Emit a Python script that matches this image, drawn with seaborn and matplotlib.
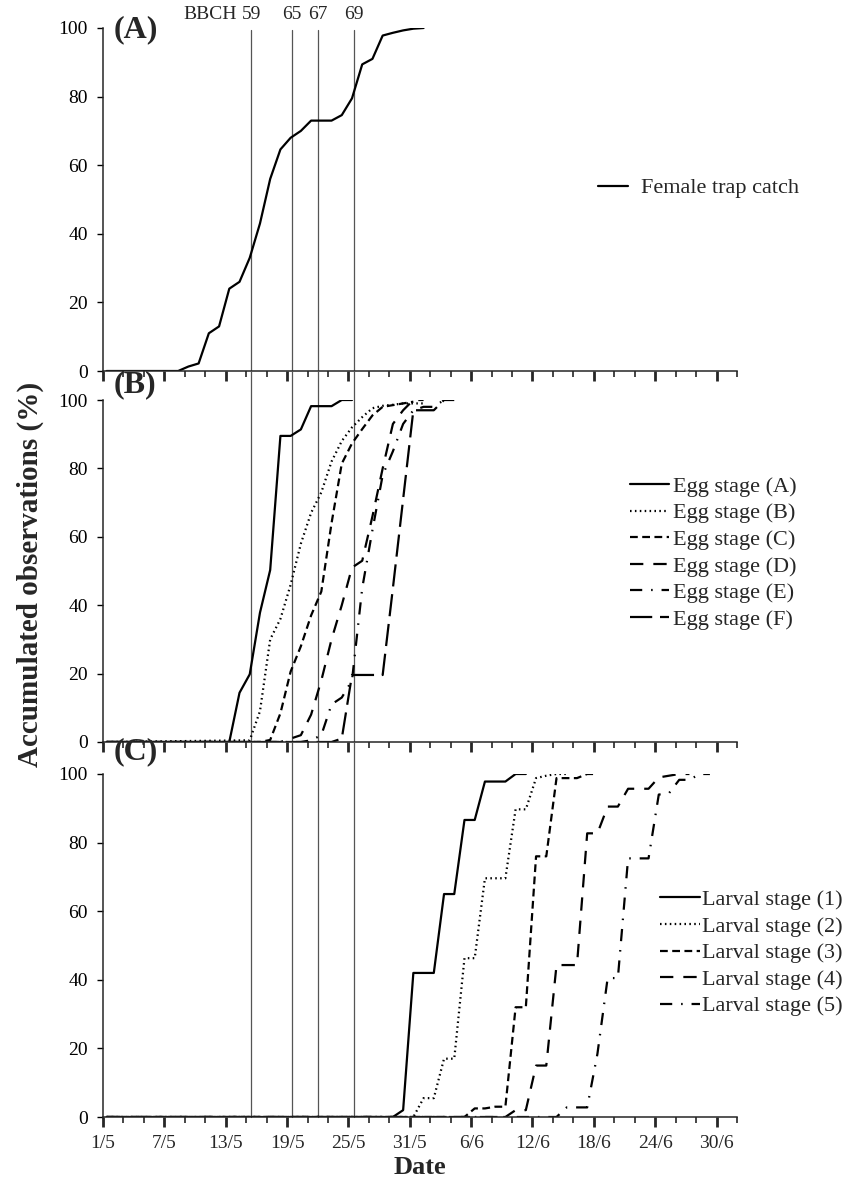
import matplotlib
matplotlib.use('Agg')
import matplotlib.pyplot as plt
from matplotlib.ticker import FixedLocator, MultipleLocator
import numpy as np
import seaborn as sns

# x = days after 1 May (0 = 1/5)
tick_days = [0, 6, 12, 18, 24, 30, 36, 42, 48, 54, 60]
tick_labels = ['1/5', '7/5', '13/5', '19/5', '25/5', '31/5', '6/6', '12/6', '18/6', '24/6', '30/6']
bbch_labels = ['59', '65', '67', '69']
bbch_days = [14.5, 18.5, 21.0, 24.5]

# (A) female trap catch
fem_day = [0, 7, 8, 9, 10, 11, 12, 13, 14, 15, 16, 17, 18, 19, 20, 21, 22, 23, 24, 25, 26, 27, 28, 29, 30, 31]
fem_val = [0, 0, 1.3, 2.2, 11, 13, 24, 26, 33, 43, 56, 64.6, 68, 70, 73, 73, 73, 74.6, 79.5, 89.4, 91, 97.8, 98.6, 99.3, 99.8, 100]

# (B) egg stages
eggA_day = [0, 12, 13, 14, 15, 16, 17, 18, 19, 20, 21, 22, 23, 24]
eggA_val = [0, 0, 14.4, 19.8, 37.8, 50.3, 89.5, 89.5, 91.4, 98.2, 98.2, 98.2, 100, 100]
eggB_day = [0, 14, 15, 16, 17, 18, 19, 20, 21, 22, 23, 24, 25, 26, 27, 28, 29, 30, 31]
eggB_val = [0, 0.5, 9, 30, 36, 46, 58, 67, 73, 82, 88, 92, 95, 97.6, 98.3, 98.6, 99, 99, 99]
eggC_day = [0, 15, 16, 17, 18, 19, 20, 21, 22, 23, 24, 25, 26, 27, 28, 29, 30]
eggC_val = [0, 0, 0.6, 8.4, 20.6, 28, 37, 44, 64, 81.4, 87.3, 91.5, 95.5, 98, 98.5, 99, 99.5]
eggD_day = [0, 17, 18, 19, 20, 21, 22, 23, 24, 25, 26, 27, 28, 29, 30, 31]
eggD_val = [0, 0, 1, 2, 8, 18, 30, 40, 51, 53, 66, 80, 93, 97, 100, 100]
eggE_day = [0, 19, 20, 21, 22, 23, 24, 25, 26, 27, 28, 29, 30, 31, 32, 33]
eggE_val = [0, 0, 0.5, 2, 11, 13, 18, 45, 62, 78, 85, 93, 97, 98, 98, 100]
eggF_day = [0, 22, 23, 24, 25, 26, 27, 28, 29, 30, 31, 32, 33, 34]
eggF_val = [0, 0, 1, 19.6, 19.6, 19.6, 19.6, 45, 71, 97, 97, 97, 100, 100]

# (C) larval stages
lar1_day = [0, 28, 29, 30, 31, 32, 33, 34, 35, 36, 37, 38, 39, 40, 41]
lar1_val = [0, 0, 2, 42, 42, 42, 65, 65, 86.6, 86.6, 97.8, 97.8, 97.8, 100, 100]
lar2_day = [0, 30, 31, 32, 33, 34, 35, 36, 37, 38, 39, 40, 41, 42, 43, 44, 45]
lar2_val = [0, 0, 5.5, 5.5, 17, 17, 46.3, 46.3, 69.6, 69.6, 69.6, 89.7, 89.7, 98.8, 99.5, 100, 100]
lar3_day = [0, 35, 36, 37, 38, 39, 40, 41, 42, 43, 44, 45, 46, 47, 48]
lar3_val = [0, 0, 2.5, 2.5, 3, 3, 32, 32, 76, 76, 98.8, 98.8, 98.8, 100, 100]
lar4_day = [0, 39, 40, 41, 42, 43, 44, 45, 46, 47, 48, 49, 50, 51, 52, 53, 54, 55, 56, 57]
lar4_val = [0, 0, 2, 2, 15, 15, 44.3, 44.3, 44.3, 82.7, 82.7, 90.5, 90.5, 95.7, 95.7, 95.7, 99, 99.5, 100, 100]
lar5_day = [0, 44, 45, 46, 47, 48, 49, 50, 51, 52, 53, 54, 55, 56, 57, 58, 59]
lar5_val = [0, 0, 2.8, 2.8, 2.8, 18.4, 40.5, 40.5, 75.4, 75.4, 75.4, 94, 94.4, 98.3, 98.3, 100, 100]

egg_names = ['Egg stage (A)', 'Egg stage (B)', 'Egg stage (C)', 'Egg stage (D)', 'Egg stage (E)', 'Egg stage (F)']
lar_names = ['Larval stage (1)', 'Larval stage (2)', 'Larval stage (3)', 'Larval stage (4)', 'Larval stage (5)']

styles = ['-', (0, (0.7, 1.5)), (0, (3.5, 2.0)), (0, (6, 4.5)), (0, (5.5, 4, 0.7, 4)), (0, (10, 3.5))]
DAY_CENTRE = 0.35  # points sit in the middle of each day

sns.set_theme(style='ticks')
plt.rcParams['font.family'] = ['Liberation Serif', 'DejaVu Serif']
plt.rcParams['axes.linewidth'] = 1.1

W, H = 856, 1186
fig = plt.figure(figsize=(W / 100, H / 100), dpi=100)
left, right = 103, 737
boxes = [(28, 371), (400, 742), (774, 1117)]
axes = [fig.add_axes([left / W, 1 - b / H, (right - left) / W, (b - t) / H]) for t, b in boxes]

panels = [
    ([(fem_day, fem_val)], ['Female trap catch']),
    ([(eggA_day, eggA_val), (eggB_day, eggB_val), (eggC_day, eggC_val),
      (eggD_day, eggD_val), (eggE_day, eggE_val), (eggF_day, eggF_val)], egg_names),
    ([(lar1_day, lar1_val), (lar2_day, lar2_val), (lar3_day, lar3_val),
      (lar4_day, lar4_val), (lar5_day, lar5_val)], lar_names),
]

for i, (ax, (series, names)) in enumerate(zip(axes, panels)):
    for (d, v), ls in zip(series, styles):
        sns.lineplot(x=np.array(d) + DAY_CENTRE, y=v, ax=ax, color='black',
                     linewidth=1.6, linestyle=ls, errorbar=None, legend=False)
    lines = ax.get_lines()[:len(series)]

    ax.set_xlim(0, 62)
    ax.set_ylim(0, 100)
    sns.despine(ax=ax)
    ax.set_yticks(range(0, 101, 20))
    ax.xaxis.set_major_locator(FixedLocator(tick_days))
    ax.xaxis.set_minor_locator(MultipleLocator(2))
    ax.tick_params(axis='y', length=4, width=1, pad=7, labelsize=14, colors='black')
    ax.tick_params(axis='x', which='major', length=7, width=2, pad=6, labelsize=14)
    ax.tick_params(axis='x', which='minor', length=4, width=1.2)
    if i == 2:
        ax.set_xticklabels(tick_labels)
        ax.set_xlabel('Date', fontsize=19, fontweight='bold', labelpad=3)
    else:
        ax.set_xticklabels([])
    ax.set_ylabel('')

    # BBCH vertical lines run through all panels
    if i == 0:
        ymax = (371 - 30) / 343
    else:
        gap = boxes[i][0] - boxes[i - 1][1]
        ymax = 1 + gap / (boxes[i][1] - boxes[i][0])
    for bd in bbch_days:
        ax.axvline(bd, ymin=0, ymax=ymax, color='#555555', lw=0.9, clip_on=False, zorder=1)

    if i == 0:
        ax.legend(lines, names, loc='center left', bbox_to_anchor=(598 / W, 1 - 188 / H),
                  bbox_transform=fig.transFigure, frameon=False, borderpad=0,
                  borderaxespad=0, handlelength=1.35, handletextpad=0.6, fontsize=16)
    elif i == 1:
        ax.legend(lines, names, loc='center left', bbox_to_anchor=(630 / W, 1 - 553 / H),
                  bbox_transform=fig.transFigure, frameon=False, borderpad=0,
                  borderaxespad=0, handlelength=1.75, handletextpad=0.2,
                  labelspacing=0.27, fontsize=16)
    else:
        ax.legend(lines, names, loc='center left', bbox_to_anchor=(660 / W, 1 - 953 / H),
                  bbox_transform=fig.transFigure, frameon=False, borderpad=0,
                  borderaxespad=0, handlelength=1.8, handletextpad=0.1,
                  labelspacing=0.27, fontsize=16)

# panel letters
for ax, letter, yy in zip(axes, ['(A)', '(B)', '(C)'], [30, 385, 752]):
    ax.text(114 / W, 1 - yy / H, letter, transform=fig.transFigure, fontsize=23,
            fontweight='bold', va='center', ha='left')

# BBCH labels
top = axes[0]
top.text(bbch_days[0] - 1.45, 1.04, 'BBCH', transform=top.get_xaxis_transform(),
         ha='right', va='center', fontsize=14)
for bd, lab in zip(bbch_days, bbch_labels):
    top.text(bd, 1.04, lab, transform=top.get_xaxis_transform(), ha='center', va='center', fontsize=14)

fig.text(30 / W, 1 - 574 / H, 'Accumulated observations (%)', rotation=90, ha='center',
         va='center', fontsize=21, fontweight='bold')

fig.savefig('out.png', dpi=100)
